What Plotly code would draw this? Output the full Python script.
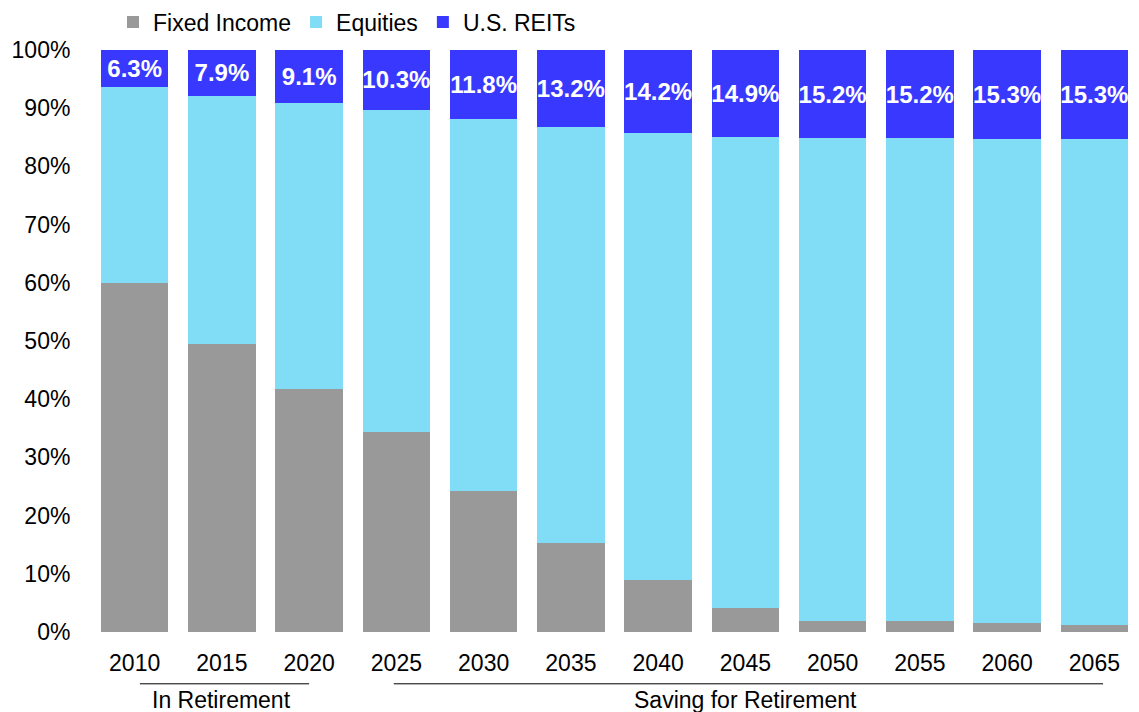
import plotly.graph_objects as go

years = ["2010", "2015", "2020", "2025", "2030", "2035", "2040", "2045", "2050", "2055", "2060", "2065"]
fixed_income = [60.0, 49.5, 41.8, 34.4, 24.2, 15.3, 8.9, 4.1, 1.9, 1.9, 1.5, 1.2]
equities = [33.7, 42.6, 49.1, 55.3, 64.0, 71.5, 76.9, 81.0, 82.9, 82.9, 83.2, 83.5]
reits = [6.3, 7.9, 9.1, 10.3, 11.8, 13.2, 14.2, 14.9, 15.2, 15.2, 15.3, 15.3]
y_ticks = [0, 10, 20, 30, 40, 50, 60, 70, 80, 90, 100]
y_tick_labels = [f"{v}%" for v in y_ticks]

FONT = "Arial, Liberation Sans, sans-serif"
FS = 23

fig = go.Figure()
fig.add_trace(go.Bar(name="Fixed Income", x=years, y=fixed_income,
                     marker=dict(color="#999999", line=dict(width=0))))
fig.add_trace(go.Bar(name="Equities", x=years, y=equities,
                     marker=dict(color="#81DDF5", line=dict(width=0))))
fig.add_trace(go.Bar(name="U.S. REITs", x=years, y=reits,
                     marker=dict(color="#3838FF", line=dict(width=0)),
                     text=[f"{v:.1f}%" for v in reits],
                     textposition="inside", insidetextanchor="middle",
                     textangle=0, constraintext="none",
                     textfont=dict(family=FONT, size=24, color="white", weight="bold")))

fig.update_layout(
    barmode="stack",
    bargap=0.225,
    width=1131, height=704,
    margin=dict(l=83, r=1, t=42, b=80, autoexpand=False),
    plot_bgcolor="white", paper_bgcolor="white",
    font=dict(family=FONT, size=FS, color="black"),
    showlegend=True,
    legend=dict(orientation="h", traceorder="normal",
                x=0.021, xanchor="left", y=1.048, yanchor="middle",
                font=dict(size=FS), itemwidth=30, tracegroupgap=0,
                bgcolor="rgba(0,0,0,0)"),
)
fig.update_xaxes(showgrid=False, showline=False, zeroline=False, automargin=False,
                 ticks="outside", ticklen=10, tickcolor="rgba(0,0,0,0)",
                 tickfont=dict(size=FS, color="black"))
fig.update_yaxes(range=[0, 100], tickvals=y_ticks, ticktext=y_tick_labels, automargin=False,
                 showgrid=False, showline=False, zeroline=False,
                 ticks="outside", ticklen=15, tickcolor="rgba(0,0,0,0)",
                 tickfont=dict(size=FS, color="black"))

# group labels below the axis
fig.add_shape(type="line", xref="x", yref="paper", x0=0.06, x1=2.0, y0=-0.089, y1=-0.089,
              line=dict(color="black", width=1))
fig.add_shape(type="line", xref="x", yref="paper", x0=2.97, x1=11.1, y0=-0.089, y1=-0.089,
              line=dict(color="black", width=1))
fig.add_annotation(x=1, xref="x", y=-0.117, yref="paper", text="In Retirement",
                   showarrow=False, font=dict(size=FS, color="black"), yanchor="middle")
fig.add_annotation(x=7, xref="x", y=-0.117, yref="paper", text="Saving for Retirement",
                   showarrow=False, font=dict(size=FS, color="black"), yanchor="middle")

fig.write_html("out.html")
